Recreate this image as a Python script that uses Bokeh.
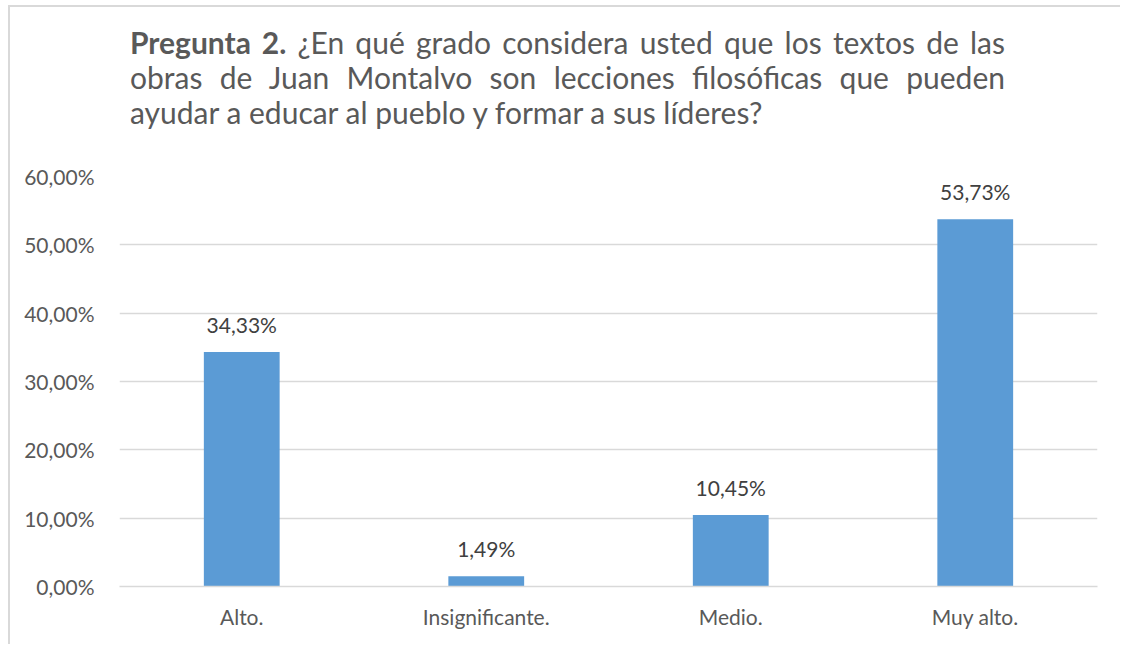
from bokeh.plotting import figure
from bokeh.models import ColumnDataSource, LabelSet, Div, FactorRange, Range1d, FixedTicker, CustomJSTickFormatter
from bokeh.core.properties import value
from bokeh.layouts import column
from bokeh.embed import file_html
from bokeh.resources import INLINE

categories = ["Alto.", "Insignificante.", "Medio.", "Muy alto."]
values = [34.33, 1.49, 10.45, 53.73]
y_ticks = [0, 10, 20, 30, 40, 50, 60]
title_lines = [
    "<b>Pregunta 2.</b> ¿En qué grado considera usted que los textos de las",
    "obras de Juan Montalvo son lecciones filosóficas que pueden",
    "ayudar a educar al pueblo y formar a sus líderes?",
]

FONT = "Lato"
labels = [f"{v:.2f}".replace(".", ",") + "%" for v in values]
src = ColumnDataSource(dict(cat=categories, val=values, lab=labels))

line_style = "font-family:Lato; font-size:30px; color:#595959; line-height:35px; width:875px;"
html = '<div style="padding-top:18px; margin-left:120px;">'
for i, t in enumerate(title_lines):
    if i < len(title_lines) - 1:
        html += f'<div style="{line_style} text-align:justify; text-align-last:justify;">{t}</div>'
    else:
        html += f'<div style="{line_style} text-align:left;">{t}</div>'
html += "</div>"
div = Div(text=html, width=1110, height=150, margin=0)

p = figure(x_range=FactorRange(*categories), y_range=Range1d(0, 60),
           width=1110, height=487, output_backend="svg", toolbar_location=None,
           min_border_left=109, min_border_right=23, min_border_top=19, min_border_bottom=58,
           margin=0)
p.outline_line_color = None
p.vbar(x="cat", top="val", width=0.31, source=src, fill_color="#5B9BD5", line_color=None)

p.add_layout(LabelSet(x="cat", y="val", text="lab", source=src, y_offset=19,
                      text_align="center", text_baseline="alphabetic",
                      text_font=value(FONT), text_font_size="21px", text_color="#404040"))

p.yaxis.ticker = FixedTicker(ticks=y_ticks)
p.yaxis.formatter = CustomJSTickFormatter(code="return tick.toFixed(2).replace('.', ',') + '%';")
p.yaxis.axis_line_color = None
p.yaxis.major_tick_line_color = None
p.yaxis.minor_tick_line_color = None
p.yaxis.major_label_text_font = FONT
p.yaxis.major_label_text_font_size = "21px"
p.yaxis.major_label_text_color = "#595959"
p.yaxis.major_label_standoff = 19

p.xaxis.axis_line_color = "#D9D9D9"
p.xaxis.axis_line_width = 1.5
p.xaxis.major_tick_line_color = None
p.xaxis.minor_tick_line_color = None
p.xaxis.major_label_text_font = FONT
p.xaxis.major_label_text_font_size = "21px"
p.xaxis.major_label_text_color = "#595959"
p.xaxis.major_label_standoff = 11

p.xgrid.grid_line_color = None
p.ygrid.grid_line_color = "#D9D9D9"
p.ygrid.grid_line_width = 1.5

layout = column(div, p, spacing=0, margin=(5, 0, 0, 8),
                styles={"border-left": "2px solid #D9D9D9", "border-top": "2px solid #D9D9D9"})

open("out.html", "w").write(file_html(layout, INLINE))
